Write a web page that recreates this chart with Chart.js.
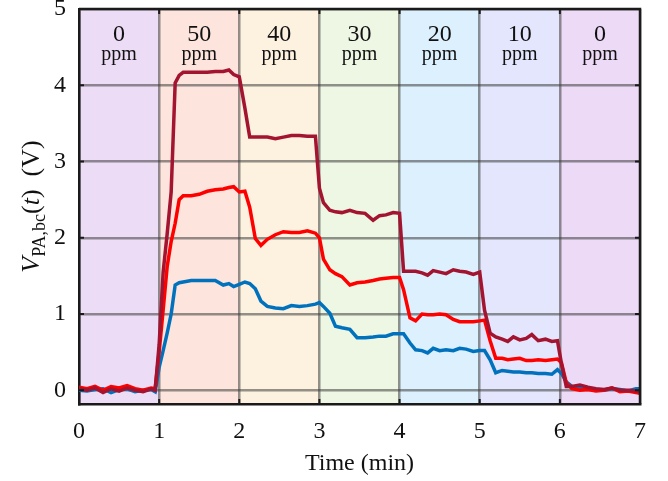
<!DOCTYPE html>
<html>
<head>
<meta charset="utf-8">
<script src="https://cdn.jsdelivr.net/npm/chart.js@4.4.0/dist/chart.umd.min.js"></script>
<style>
  body { margin: 0; background: #fff; }
  #wrap { width: 668px; height: 481px; }
</style>
</head>
<body>
<div id="wrap"><canvas id="chartCanvas" width="668" height="481"></canvas></div>
<script>
// time axis (min)
var times = [0, 0.1, 0.2, 0.3, 0.4, 0.5, 0.6, 0.7, 0.8, 0.9, 0.95,
    1.0, 1.05, 1.1, 1.15, 1.2, 1.25, 1.3, 1.4, 1.5, 1.6, 1.7, 1.8, 1.87, 1.93,
    2.0, 2.07, 2.13, 2.2, 2.27, 2.35, 2.45, 2.55, 2.65, 2.75, 2.85, 2.95,
    3.0, 3.05, 3.13, 3.2, 3.28, 3.38, 3.47, 3.57, 3.67, 3.75, 3.83, 3.92,
    4.0, 4.05, 4.13, 4.2, 4.28, 4.35, 4.42, 4.5, 4.58, 4.67, 4.75, 4.83, 4.92,
    5.0, 5.06, 5.13, 5.2, 5.28, 5.35, 5.42, 5.5, 5.58, 5.65, 5.73, 5.82, 5.9, 5.97,
    6.02, 6.08, 6.15, 6.25, 6.35, 6.45, 6.55, 6.65, 6.75, 6.85, 6.95, 7.0];

var darkRedValues = [0.02, 0.0, 0.03, -0.03, 0.02, -0.01, 0.03, 0.0, -0.02, 0.02, 0.0,
    0.6, 1.55, 2.05, 2.6, 4.03, 4.13, 4.17, 4.17, 4.17, 4.17, 4.18, 4.18, 4.2, 4.14,
    4.11, 3.7, 3.32, 3.32, 3.32, 3.32, 3.30, 3.32, 3.34, 3.34, 3.33, 3.33,
    2.65, 2.46, 2.36, 2.34, 2.33, 2.36, 2.33, 2.32, 2.23, 2.29, 2.30, 2.33,
    2.32, 1.56, 1.56, 1.56, 1.54, 1.51, 1.57, 1.55, 1.53, 1.58, 1.56, 1.55, 1.52,
    1.55, 1.05, 0.75, 0.70, 0.67, 0.64, 0.70, 0.66, 0.68, 0.73, 0.65, 0.67, 0.64, 0.65,
    0.35, 0.05, 0.05, 0.07, 0.04, 0.02, 0.01, 0.03, 0.0, 0.0, -0.01, -0.02];

var redValues = [0.04, 0.02, 0.05, 0.0, 0.05, 0.03, 0.06, 0.02, 0.0, 0.03, 0.02,
    0.5, 1.05, 1.62, 1.95, 2.19, 2.5, 2.55, 2.55, 2.57, 2.61, 2.63, 2.64, 2.66, 2.67,
    2.6, 2.61, 2.4, 1.99, 1.90, 1.98, 2.04, 2.08, 2.07, 2.07, 2.09, 2.06,
    2.0, 1.72, 1.58, 1.53, 1.49, 1.38, 1.41, 1.42, 1.44, 1.46, 1.47, 1.48,
    1.48, 1.32, 0.95, 0.91, 1.0, 0.99, 0.99, 1.0, 0.99, 0.93, 0.90, 0.90, 0.90,
    0.91, 0.92, 0.65, 0.42, 0.42, 0.40, 0.41, 0.42, 0.39, 0.39, 0.40, 0.39, 0.40, 0.41,
    0.36, 0.10, 0.02, 0.0, 0.01, -0.01, 0.0, 0.03, -0.02, -0.01, -0.03, -0.04];

var blueValues = [0.0, -0.01, 0.01, 0.02, -0.03, 0.01, 0.02, -0.02, 0.0, 0.01, -0.02,
    0.3, 0.52, 0.75, 1.0, 1.38, 1.41, 1.42, 1.44, 1.44, 1.44, 1.44, 1.38, 1.40, 1.36,
    1.39, 1.42, 1.40, 1.33, 1.17, 1.10, 1.08, 1.07, 1.11, 1.10, 1.11, 1.13,
    1.15, 1.10, 1.01, 0.84, 0.82, 0.80, 0.69, 0.69, 0.70, 0.71, 0.71, 0.74,
    0.74, 0.74, 0.62, 0.53, 0.52, 0.49, 0.55, 0.52, 0.53, 0.52, 0.55, 0.54, 0.51,
    0.52, 0.52, 0.4, 0.23, 0.26, 0.25, 0.24, 0.24, 0.23, 0.23, 0.22, 0.22, 0.21, 0.27,
    0.22, 0.11, 0.05, 0.03, 0.02, 0.01, 0.0, 0.02, 0.01, -0.01, 0.02, 0.02];

// concentration bands (one per minute)
var bandLabels = ['0', '50', '40', '30', '20', '10', '0'];
var bandColors = ['#EDDCF6', '#FDE4DC', '#FDF1E0', '#EEF7E3', '#DCF0FD', '#E3E6FC', '#EDDAF6'];

var xTicks = [0, 1, 2, 3, 4, 5, 6, 7];
var yTicks = [0, 1, 2, 3, 4, 5];

var serif = "'Liberation Serif', 'Times New Roman', serif";
var gridColor = 'rgba(60,60,60,0.55)';

function toPoints(values) {
    return times.map(function (t, i) { return { x: t, y: values[i] }; });
}

var bandsPlugin = {
    id: 'bands',
    beforeDraw: function (chart) {
        var ctx = chart.ctx;
        var xs = chart.scales.x;
        var area = chart.chartArea;
        ctx.save();
        for (var i = 0; i < bandColors.length; i++) {
            var x1 = xs.getPixelForValue(i);
            var x2 = xs.getPixelForValue(i + 1);
            ctx.fillStyle = bandColors[i];
            ctx.fillRect(x1, area.top, x2 - x1, area.bottom - area.top);
        }
        ctx.restore();
    },
    afterDraw: function (chart) {
        var ctx = chart.ctx;
        var xs = chart.scales.x;
        var ys = chart.scales.y;
        var area = chart.chartArea;
        ctx.save();

        // band labels
        ctx.fillStyle = '#111';
        ctx.textAlign = 'center';
        ctx.textBaseline = 'alphabetic';
        for (var i = 0; i < bandLabels.length; i++) {
            var cx = xs.getPixelForValue(i + 0.5);
            ctx.font = '24px ' + serif;
            ctx.fillText(bandLabels[i], cx, area.top + 32);
            ctx.font = '20px ' + serif;
            ctx.fillText('ppm', cx, area.top + 51);
        }

        // frame: top and right
        ctx.strokeStyle = '#1a1a1a';
        ctx.lineWidth = 2.5;
        ctx.beginPath();
        ctx.moveTo(area.left, area.top);
        ctx.lineTo(area.right, area.top);
        ctx.lineTo(area.right, area.bottom);
        ctx.stroke();

        // inward tick marks
        ctx.lineWidth = 2;
        ctx.beginPath();
        xTicks.forEach(function (v) {
            var px = xs.getPixelForValue(v);
            ctx.moveTo(px, area.top); ctx.lineTo(px, area.top + 5);
            ctx.moveTo(px, area.bottom); ctx.lineTo(px, area.bottom - 5);
        });
        yTicks.forEach(function (v) {
            var py = ys.getPixelForValue(v);
            ctx.moveTo(area.left, py); ctx.lineTo(area.left + 5, py);
            ctx.moveTo(area.right, py); ctx.lineTo(area.right - 5, py);
        });
        ctx.stroke();

        // y axis title: V_{PA,bc}(t) (V)
        var parts = [
            { text: 'V', font: 'italic 26px ' + serif, dy: 0 },
            { text: 'PA,bc', font: '18px ' + serif, dy: 6 },
            { text: '(', font: '26px ' + serif, dy: 0 },
            { text: 't', font: 'italic 26px ' + serif, dy: 0 },
            { text: ')', font: '26px ' + serif, dy: 0 },
            { text: '  (V)', font: '26px ' + serif, dy: 0 }
        ];
        var total = 0;
        parts.forEach(function (p) {
            ctx.font = p.font;
            p.w = ctx.measureText(p.text).width;
            total += p.w;
        });
        var cy = (area.top + area.bottom) / 2;
        ctx.translate(39, cy);
        ctx.rotate(-Math.PI / 2);
        ctx.textAlign = 'left';
        var pos = -total / 2;
        parts.forEach(function (p) {
            ctx.font = p.font;
            ctx.fillText(p.text, pos, p.dy);
            pos += p.w;
        });
        ctx.restore();
    }
};

var ctx = document.getElementById('chartCanvas').getContext('2d');

var chart = new Chart(ctx, {
    type: 'line',
    data: {
        datasets: [
            { data: toPoints(darkRedValues), borderColor: '#A2142F', borderWidth: 3.5, pointRadius: 0, tension: 0 },
            { data: toPoints(redValues), borderColor: '#FF0000', borderWidth: 3.5, pointRadius: 0, tension: 0 },
            { data: toPoints(blueValues), borderColor: '#0072BD', borderWidth: 3.5, pointRadius: 0, tension: 0 }
        ]
    },
    options: {
        responsive: false,
        animation: false,
        events: [],
        layout: {
            autoPadding: false,
            padding: { top: 9, right: 28, left: 0, bottom: 0 }
        },
        plugins: {
            legend: { display: false },
            tooltip: { enabled: false }
        },
        scales: {
            x: {
                type: 'linear',
                min: 0,
                max: 7,
                afterBuildTicks: function (scale) {
                    scale.ticks = xTicks.map(function (v) { return { value: v }; });
                },
                afterFit: function (scale) {
                    scale.height = 77;
                    scale.paddingLeft = 0;
                    scale.paddingRight = 0;
                },
                grid: { color: gridColor, lineWidth: 2.5, drawTicks: false },
                border: { display: true, color: '#1a1a1a', width: 2.5 },
                ticks: { color: '#111', font: { family: serif, size: 24 }, padding: 13, maxRotation: 0 },
                title: {
                    display: true,
                    text: 'Time (min)',
                    color: '#111',
                    font: { family: serif, size: 24 },
                    padding: { top: 0, bottom: 3 }
                }
            },
            y: {
                min: -0.18,
                max: 5,
                afterBuildTicks: function (scale) {
                    scale.ticks = yTicks.map(function (v) { return { value: v }; });
                },
                afterFit: function (scale) {
                    scale.width = 79;
                    scale.paddingTop = 0;
                    scale.paddingBottom = 0;
                },
                grid: { color: gridColor, lineWidth: 2.5, drawTicks: false },
                border: { display: true, color: '#1a1a1a', width: 2.5 },
                ticks: { color: '#111', font: { family: serif, size: 24 }, padding: 13 }
            }
        }
    },
    plugins: [bandsPlugin]
});
</script>
</body>
</html>
